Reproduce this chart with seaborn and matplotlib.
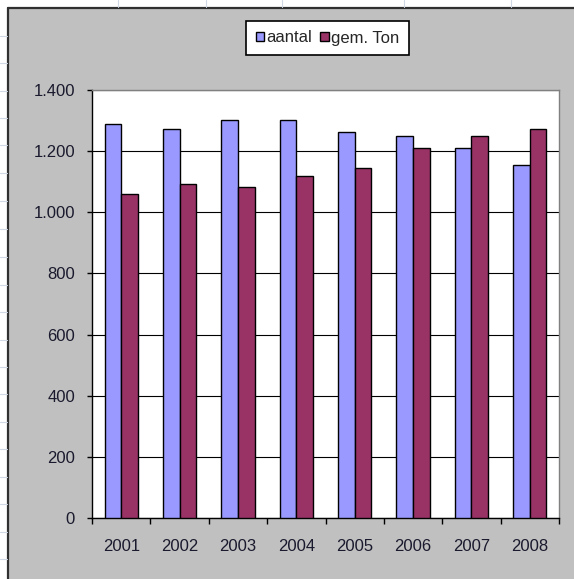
import pandas as pd
import matplotlib
matplotlib.use("Agg")
import matplotlib.pyplot as plt
import seaborn as sns
from matplotlib.patches import Patch, Rectangle
from matplotlib.lines import Line2D
from matplotlib.ticker import FuncFormatter, MultipleLocator

# Gegevens
jaren = ["2001", "2002", "2003", "2004", "2005", "2006", "2007", "2008"]
aantal = [1289, 1271, 1303, 1303, 1262, 1251, 1209, 1156]
gem_ton = [1061, 1093, 1083, 1119, 1146, 1209, 1251, 1271]
reeksen = ["aantal", "gem. Ton"]
kleuren = ["#9999FF", "#993366"]

W, H = 574, 579
DPI = 100

df = pd.DataFrame({
    "jaar": jaren * 2,
    "reeks": [reeksen[0]] * len(jaren) + [reeksen[1]] * len(jaren),
    "waarde": aantal + gem_ton,
})

sns.set_style("white")
plt.rcParams["font.family"] = ["Liberation Sans", "DejaVu Sans"]

fig = plt.figure(figsize=(W / DPI, H / DPI), dpi=DPI, facecolor="white")

# Grijze grafiekruimte (Excel-stijl) met randje links en boven
fig.patches.append(Rectangle((8 / W, 0), 1, 1 - 8 / H, transform=fig.transFigure,
                             facecolor="#C0C0C0", edgecolor="none", zorder=-2))
fig.lines.append(Line2D([8 / W, 8 / W], [0, 1 - 8 / H], transform=fig.transFigure,
                        color="#303030", lw=1.6, zorder=-1))
fig.lines.append(Line2D([8 / W, 1], [1 - 8 / H, 1 - 8 / H], transform=fig.transFigure,
                        color="#303030", lw=1.6, zorder=-1))

# Celranden van het werkblad
for x in [118, 206, 282, 404, 511]:
    fig.lines.append(Line2D([x / W, x / W], [1 - 7 / H, 1], transform=fig.transFigure,
                            color="#D0D7E5", lw=0.8, zorder=-1))
for y in [36, 63, 91, 118, 145, 173, 201, 229, 257, 285, 312, 340, 367, 394,
          422, 449, 477, 504, 532, 559]:
    fig.lines.append(Line2D([0, 7 / W], [1 - y / H, 1 - y / H], transform=fig.transFigure,
                            color="#D0D7E5", lw=0.8, zorder=-1))

ax = fig.add_axes([92 / W, 1 - 518 / H, (559 - 92) / W, (518 - 90) / H])
ax.set_zorder(1)
ax.set_facecolor("white")

sns.barplot(data=df, x="jaar", y="waarde", hue="reeks", palette=kleuren,
            saturation=1, width=0.57, gap=0, edgecolor="black", linewidth=1.0,
            legend=False, ax=ax, zorder=3)

ax.set_ylim(0, 1400)
ax.set_xlim(-0.5, len(jaren) - 0.5)
ax.yaxis.set_major_locator(MultipleLocator(200))
ax.yaxis.set_major_formatter(FuncFormatter(lambda v, p: f"{v:,.0f}".replace(",", ".")))
ax.grid(axis="y", color="black", lw=0.8, zorder=0)
ax.set_axisbelow(True)
ax.set_xlabel("")
ax.set_ylabel("")

# Randen van het plotvlak
ax.spines["left"].set_color("black")
ax.spines["bottom"].set_color("black")
ax.spines["top"].set_color("#808080")
ax.spines["right"].set_color("#808080")
for s in ax.spines.values():
    s.set_linewidth(1.0)
    s.set_visible(True)

# Tick-streepjes tussen de categorieën
ax.set_xticks([i - 0.5 for i in range(len(jaren) + 1)], minor=True)
ax.tick_params(axis="x", which="minor", direction="out", length=4.5, width=1, color="black", bottom=True)
ax.tick_params(axis="x", which="major", length=0, pad=15, labelsize=12, labelcolor="#1a1a2e", bottom=True)
ax.tick_params(axis="y", direction="out", length=3.8, width=1, color="black", left=True,
               pad=8.5, labelsize=12, labelcolor="#1a1a2e")

handles = [Patch(facecolor=c, edgecolor="black", linewidth=1.0) for c in kleuren]
leg = fig.legend(handles, reeksen, loc="center", bbox_to_anchor=(327.5 / W, 1 - 38 / H),
                 ncol=2, fontsize=12, frameon=True, fancybox=False, edgecolor="black",
                 facecolor="white", framealpha=1, handlelength=0.5, handleheight=0.5,
                 handletextpad=0.15, columnspacing=0.5, borderpad=0.55)
leg.get_frame().set_linewidth(1.2)

fig.savefig("out.png", dpi=DPI)
